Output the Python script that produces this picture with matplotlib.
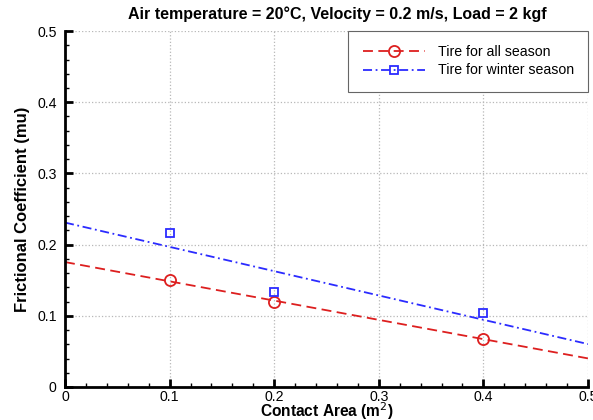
import numpy as np
import matplotlib
matplotlib.use("Agg")
import matplotlib.pyplot as plt
from matplotlib.ticker import MultipleLocator, FuncFormatter

plt.rcParams['font.family'] = ['Liberation Sans', 'DejaVu Sans']

area = [0.1, 0.2, 0.4]
mu_all = [0.150, 0.119, 0.068]
mu_winter = [0.216, 0.134, 0.104]

RED = "#dd1f1f"
BLUE = "#2b2bff"
DASH = (0, (5.5, 3))
DASHDOT = (0, (5, 2, 1, 2))

fig = plt.figure(figsize=(5.93, 4.2), dpi=100)
ax = fig.add_axes([0.1096, 0.0786, 0.8820, 0.8474])

# linear trend lines through each data set
xs = np.array([0.0, 0.5])
ka = np.polyfit(area, mu_all, 1)
kw = np.polyfit(area, mu_winter, 1)

ax.plot(xs, np.polyval(ka, xs), ls=DASH, color=RED, lw=1.3)
ax.plot(xs, np.polyval(kw, xs), ls=DASHDOT, color=BLUE, lw=1.3)
ax.plot(area, mu_all, "o", mfc="none", mec=RED, mew=1.3, ms=8)
ax.plot(area, mu_winter, "s", mfc="none", mec=BLUE, mew=1.3, ms=6)

# legend proxies
ax.plot([], [], ls=DASH, color=RED, lw=1.3, marker="o", mfc="none",
        mec=RED, mew=1.3, ms=8, label="Tire for all season")
ax.plot([], [], ls=DASHDOT, color=BLUE, lw=1.3, marker="s", mfc="none",
        mec=BLUE, mew=1.3, ms=6, label="Tire for winter season")

ax.set_xlim(0, 0.5)
ax.set_ylim(0, 0.5)
fmt = FuncFormatter(lambda v, p: "0" if abs(v) < 1e-9 else f"{v:g}")
for axis in (ax.xaxis, ax.yaxis):
    axis.set_major_locator(MultipleLocator(0.1))
    axis.set_minor_locator(MultipleLocator(0.02))
    axis.set_major_formatter(fmt)

ax.grid(True, which="major", ls=":", color="#b8b8b8", lw=0.9)
for s in ("top", "right"):
    ax.spines[s].set_visible(False)
for s in ("left", "bottom"):
    ax.spines[s].set_linewidth(2)
ax.tick_params(which="major", direction="in", length=6, width=2, labelsize=10.2)
ax.tick_params(axis="x", which="major", pad=2)
ax.tick_params(axis="y", which="major", pad=6)
ax.tick_params(which="minor", direction="in", length=3, width=1)
ax.set_axisbelow(True)

ax.set_xlabel("Contact Area (m$^2$)", fontsize=11.2, fontweight="bold", labelpad=-2.5)
ax.set_ylabel("Frictional Coefficient (mu)", fontsize=12, fontweight="bold", labelpad=5)
ax.set_title("Air temperature = 20\u00b0C, Velocity = 0.2 m/s, Load = 2 kgf",
             fontsize=11.5, fontweight="bold", pad=9, x=0.52)

leg = ax.legend(loc="upper right", fontsize=10.2, frameon=True, fancybox=False,
                edgecolor="#666666", framealpha=1, borderaxespad=0.0,
                handlelength=4.4, borderpad=1.0, labelspacing=0.3, handletextpad=0.9)
leg.get_frame().set_linewidth(0.8)

fig.savefig("out.png", dpi=100)
